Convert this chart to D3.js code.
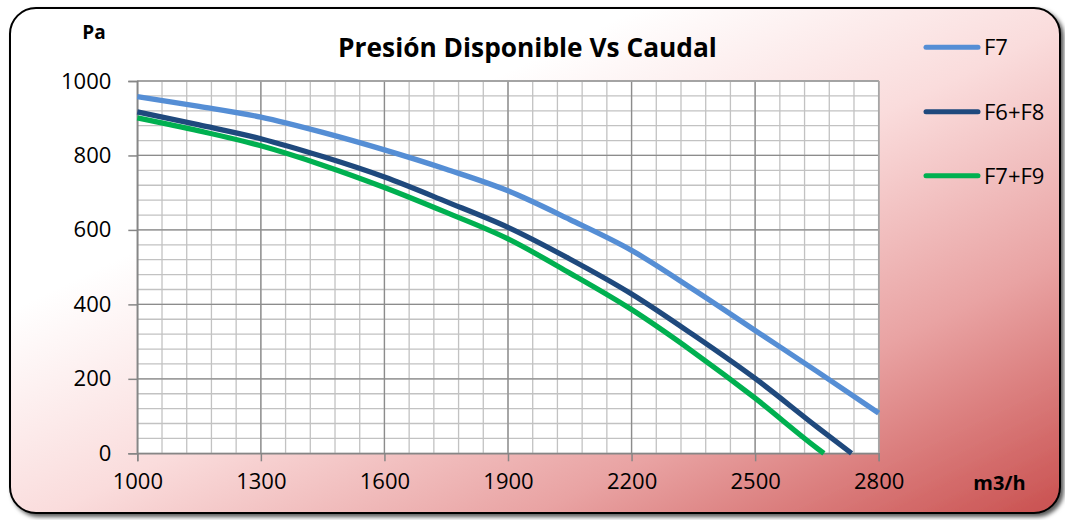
<!DOCTYPE html>
<html>
<head>
<meta charset="utf-8">
<script src="https://cdn.jsdelivr.net/npm/d3@7"></script>
<style>
  html, body { margin: 0; padding: 0; background: #ffffff; }
  svg { display: block; }
  text { font-family: "Open Sans", "Noto Sans", sans-serif; }
</style>
</head>
<body>
<script>
// ---- data ----
const seriesNames = ["F7", "F6+F8", "F7+F9"];
const flowF7   = [1000, 1150, 1300, 1450, 1600, 1750, 1900, 2050, 2200, 2350, 2500, 2650, 2800];
const presF7   = [958, 932, 903, 862, 815, 763, 705, 628, 545, 440, 330, 220, 108];
const flowF6F8 = [1000, 1150, 1300, 1450, 1600, 1750, 1900, 2050, 2200, 2350, 2500, 2650, 2734];
const presF6F8 = [917, 882, 845, 797, 742, 676, 607, 522, 428, 318, 201, 71, 0];
const flowF7F9 = [1000, 1150, 1300, 1450, 1600, 1750, 1900, 2050, 2200, 2350, 2500, 2650, 2667];
const presF7F9 = [901, 866, 826, 774, 714, 647, 576, 484, 386, 272, 148, 14, 0];
const xTicks = [1000, 1300, 1600, 1900, 2200, 2500, 2800];
const yTicks = [0, 200, 400, 600, 800, 1000];
const titleText = "Presión Disponible Vs Caudal";
const yUnit = "Pa";
const xUnit = "m3/h";

const W = 1065, H = 520;
const colors = ["#558ed5", "#1f497d", "#00b050"];

const svg = d3.select("body").append("svg").attr("width", W).attr("height", H);
const defs = svg.append("defs");

const grad = defs.append("linearGradient").attr("id", "bg")
  .attr("x1", 0).attr("y1", 0).attr("x2", 1).attr("y2", 1);
grad.append("stop").attr("offset", "0%").attr("stop-color", "#ffffff");
grad.append("stop").attr("offset", "30%").attr("stop-color", "#ffffff");
grad.append("stop").attr("offset", "52%").attr("stop-color", "#fadcdc");
grad.append("stop").attr("offset", "75%").attr("stop-color", "#e9a3a3");
grad.append("stop").attr("offset", "100%").attr("stop-color", "#c9504f");

const shadow = defs.append("filter").attr("id", "sh")
  .attr("x", "-5%").attr("y", "-5%").attr("width", "110%").attr("height", "115%");
shadow.append("feDropShadow").attr("dx", 3).attr("dy", 3).attr("stdDeviation", 2)
  .attr("flood-color", "#000").attr("flood-opacity", 0.65);

// outer frame
svg.append("rect")
  .attr("x", 10).attr("y", 8).attr("width", 1050).attr("height", 505)
  .attr("rx", 26).attr("ry", 26)
  .attr("fill", "url(#bg)")
  .attr("stroke", "#000").attr("stroke-width", 2)
  .attr("filter", "url(#sh)");

// scales
const x = d3.scaleLinear().domain([1000, 2800]).range([137.3, 878.7]);
const y = d3.scaleLinear().domain([0, 1000]).range([453.3, 81]);

const plot = svg.append("g");
plot.append("rect")
  .attr("x", x(1000)).attr("y", y(1000))
  .attr("width", x(2800) - x(1000)).attr("height", y(0) - y(1000))
  .attr("fill", "#ffffff");

// minor grid
const xMinor = d3.range(1000, 2800 + 1, 60);
const yMinor = d3.range(0, 1000 + 1, 40);
plot.append("g").selectAll("line").data(xMinor).join("line")
  .attr("x1", d => x(d)).attr("x2", d => x(d))
  .attr("y1", y(0)).attr("y2", y(1000))
  .attr("stroke", "#c2c2c2").attr("stroke-width", 1.3);
plot.append("g").selectAll("line").data(yMinor).join("line")
  .attr("x1", x(1000)).attr("x2", x(2800))
  .attr("y1", d => y(d)).attr("y2", d => y(d))
  .attr("stroke", "#c2c2c2").attr("stroke-width", 1.3);
// major grid
plot.append("g").selectAll("line").data(xTicks).join("line")
  .attr("x1", d => x(d)).attr("x2", d => x(d))
  .attr("y1", y(0)).attr("y2", y(1000))
  .attr("stroke", "#8c8c8c").attr("stroke-width", 1.3);
plot.append("g").selectAll("line").data(yTicks).join("line")
  .attr("x1", x(1000)).attr("x2", x(2800))
  .attr("y1", d => y(d)).attr("y2", d => y(d))
  .attr("stroke", "#8c8c8c").attr("stroke-width", 1.3);
// right/top border of plot
plot.append("line").attr("x1", x(2800)).attr("x2", x(2800)).attr("y1", y(0)).attr("y2", y(1000))
  .attr("stroke", "#a6a6a6").attr("stroke-width", 1.5);
plot.append("line").attr("x1", x(1000)).attr("x2", x(2800)).attr("y1", y(1000)).attr("y2", y(1000))
  .attr("stroke", "#a6a6a6").attr("stroke-width", 1.5);

// axes
const fontSize = 22;
const xAxis = svg.append("g").attr("transform", `translate(0,${y(0)})`)
  .call(d3.axisBottom(x).tickValues(xTicks).tickSize(8).tickPadding(12).tickFormat(d3.format("d")));
const yAxis = svg.append("g").attr("transform", `translate(${x(1000)},0)`)
  .call(d3.axisLeft(y).tickValues(yTicks).tickSize(9).tickPadding(17).tickFormat(d3.format("d")));
[xAxis, yAxis].forEach(a => {
  a.select(".domain").attr("stroke", "#868686").attr("stroke-width", 1.5);
  a.selectAll(".tick line").attr("stroke", "#868686").attr("stroke-width", 1.5);
  a.selectAll(".tick text").attr("fill", "#000").style("font-size", fontSize + "px")
    .style("font-family", "'Open Sans', sans-serif");
});
xAxis.selectAll(".tick text").attr("dy", "0.71em");

// lines
const flows = [flowF7, flowF6F8, flowF7F9];
const press = [presF7, presF6F8, presF7F9];
const line = d3.line().x(d => x(d[0])).y(d => y(d[1])).curve(d3.curveMonotoneX);
seriesNames.forEach((name, i) => {
  const pts = flows[i].map((f, j) => [f, press[i][j]]);
  svg.append("path").datum(pts)
    .attr("d", line)
    .attr("fill", "none")
    .attr("stroke", colors[i])
    .attr("stroke-width", 5.3)
    .attr("stroke-linejoin", "round")
    .attr("stroke-linecap", "butt");
});

// title
const title = svg.append("text")
  .attr("x", 527.5).attr("y", 57)
  .attr("text-anchor", "middle")
  .style("font-weight", "bold").style("font-size", "25px")
  .attr("fill", "#000")
  .text(titleText);
const tl = title.node().getComputedTextLength();
title.style("font-size", (25 * 379 / tl).toFixed(2) + "px");

// unit labels
svg.append("text").attr("x", 94).attr("y", 39).attr("text-anchor", "middle")
  .style("font-weight", "bold").style("font-size", "19px").attr("fill", "#000").text(yUnit);
svg.append("text").attr("x", 999.5).attr("y", 490).attr("text-anchor", "middle")
  .style("font-weight", "bold").style("font-size", "20px").attr("fill", "#000").text(xUnit);

// legend
const legendY = [47.3, 111.7, 175.7];
const lg = svg.append("g");
seriesNames.forEach((name, i) => {
  lg.append("line")
    .attr("x1", 926).attr("x2", 978)
    .attr("y1", legendY[i]).attr("y2", legendY[i])
    .attr("stroke", colors[i]).attr("stroke-width", 5).attr("stroke-linecap", "round");
  lg.append("text")
    .attr("x", 984).attr("y", legendY[i]).attr("dy", "0.36em")
    .style("font-size", fontSize + "px").attr("fill", "#000")
    .text(name);
});
</script>
</body>
</html>
